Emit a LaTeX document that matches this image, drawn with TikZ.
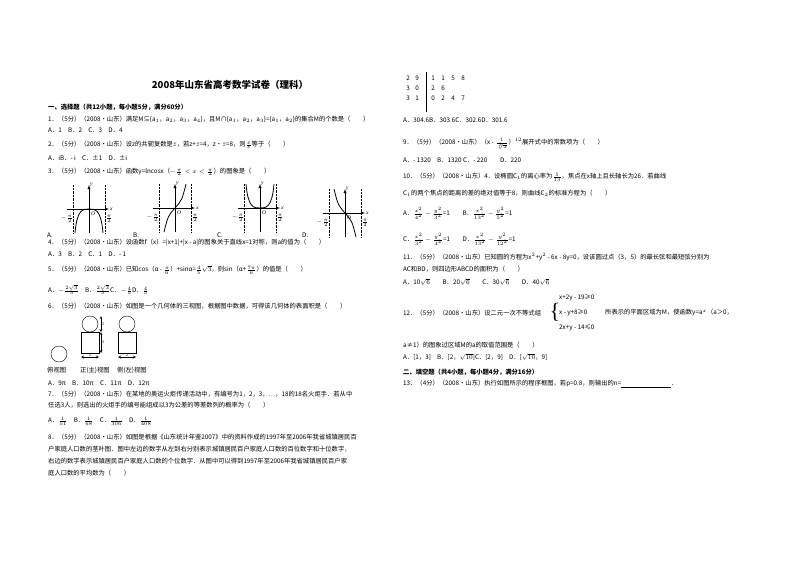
\documentclass[tikz,border=0pt]{standalone}
\usepackage{fontspec}
\setmainfont{Liberation Serif}
\newfontfamily\cjk{Noto Sans CJK SC}
\begin{document}
\begin{tikzpicture}[x=1pt,y=-1pt,
  t/.style={anchor=west,inner sep=0pt,font=\fontsize{6.3}{7}\selectfont\cjk},
  tb/.style={anchor=west,inner sep=0pt,font=\fontsize{6.3}{7}\selectfont\cjk\bfseries},
  ax/.style={-latex,thin},
  dl/.style={densely dotted,thin},
  cv/.style={thick},
  sm/.style={font=\fontsize{5.5}{5.5}\selectfont,inner sep=0pt}]
\useasboundingbox (0,0) rectangle (800,565);
\fill[white] (0,0) rectangle (800,565);
\newcommand\Lq[3]{\node[t] at (#1,#2) {#3};}
% title
\node[inner sep=0pt,font=\fontsize{9.5}{10}\selectfont\cjk\bfseries] (title) at (230,85) {2008年山东省高考数学试卷（理科）};
\node[tb] (s1) at (48,107) {一、选择题（共12小题，每小题5分，满分60分）};
\Lq{48}{119}{1．（5分）（2008•山东）满足M⊆\{a$_1$，a$_2$，a$_3$，a$_4$\}，且M∩\{a$_1$，a$_2$，a$_3$\}=\{a$_1$，a$_2$\}的集合M的个数是（　　）}
\Lq{48}{130}{A．1　B．2　C．3　D．4}
\Lq{48}{145}{2．（5分）（2008•山东）设z的共轭复数是$\bar z$，若z+$\bar z$=4，z•$\bar z$=8，则$\frac{\bar z}{z}$等于（　　）}
\Lq{48}{158}{A．iB．- i　C．±1　D．±i}
\Lq{48}{172}{3．（5分）（2008•山东）函数y=lncosx（$-\frac{\pi}{2}<x<\frac{\pi}{2}$）的图象是（　　）}
% graphs
\foreach \ox/\oy/\lab in {89/209/A,175/208/B,260/208/C,345/213/D}{
  \draw[ax] (\ox-22,\oy) -- (\ox+20,\oy) node[right,inner sep=1pt,font=\fontsize{5.5}{5.5}\selectfont\itshape]{x};
  \draw[ax] (\ox,\oy+24) -- (\ox,\oy-24) node[right,inner sep=1pt,font=\fontsize{5.5}{5.5}\selectfont\itshape]{y};
  \draw[dl] (\ox-16,\oy-24) -- (\ox-16,\oy+24);
  \draw[dl] (\ox+16,\oy-24) -- (\ox+16,\oy+24);
  \node[sm,font=\fontsize{5.5}{5.5}\selectfont\itshape] at (\ox+4,\oy+5) {O};
  \node[sm] at (\ox-22,\oy+10) {$-\frac{\pi}{2}$};
  \node[sm] at (\ox+20,\oy+10) {$\frac{\pi}{2}$};
}
\Lq{47}{235}{A.}
\Lq{133}{235}{B.}
\Lq{217}{235}{C.}
\Lq{302}{235}{D.}
\draw[cv] (89-14,209+24) .. controls (89-12,209) and (89-6,209) .. (89,209) .. controls (89+6,209) and (89+12,209) .. (89+14,209+24);
\draw[cv] (175-11,208+24) .. controls (175-7,208+8) .. (175,208) .. controls (175+7,208-8) .. (175+11,208-24);
\draw[cv] (260-14,208-24) .. controls (260-12,208) and (260-6,208) .. (260,208) .. controls (260+6,208) and (260+12,208) .. (260+14,208-24);
\draw[cv] (345-11,213-24) .. controls (345-7,213-8) .. (345,213) .. controls (345+7,213+8) .. (345+11,213+24);
\Lq{48}{243}{4．（5分）（2008•山东）设函数f（x）=|x+1|+|x - a|的图象关于直线x=1对称，则a的值为（　　）}
\Lq{48}{254}{A．3　B．2　C．1　D．- 1}
\Lq{48}{270}{5．（5分）（2008•山东）已知cos（α - $\frac{\pi}{6}$）+sinα=$\frac{4}{5}\sqrt{3}$，则sin（α+$\frac{7\pi}{6}$）的值是（　　）}
\Lq{48}{290}{A．$-\frac{2\sqrt{3}}{5}$　B．$\frac{2\sqrt{3}}{5}$C．$-\frac{4}{5}$D．$\frac{4}{5}$}
\Lq{48}{306}{6．（5分）（2008•山东）如图是一个几何体的三视图，根据图中数据，可得该几何体的表面积是（　　）}
% three views
\draw (90,324) circle (8);
\draw (81,332) rectangle (99,353);
\draw (127,324) circle (8);
\draw (118,332) rectangle (136,353);
\draw (59,354) circle (8);
\draw[<->,>=stealth] (101,316) -- (101,332) node[midway,right,inner sep=1pt,font=\fontsize{4}{4}\selectfont]{2};
\draw[<->,>=stealth] (101,332) -- (101,353) node[midway,right,inner sep=1pt,font=\fontsize{4}{4}\selectfont]{3};
\draw[<->,>=stealth] (81,357) -- (99,357) node[midway,above,inner sep=0.5pt,font=\fontsize{4}{4}\selectfont]{2};
\draw[<->,>=stealth] (118,357) -- (136,357) node[midway,above,inner sep=0.5pt,font=\fontsize{4}{4}\selectfont]{2};
\Lq{47}{370}{俯视图}
\Lq{80}{370}{正(主)视图}
\Lq{117}{370}{侧(左)视图}
\Lq{48}{383}{A．9π　B．10π　C．11π　D．12π}
\Lq{48}{394}{7．（5分）（2008•山东）在某地的奥运火炬传递活动中，有编号为1，2，3，…，18的18名火炬手．若从中}
\Lq{48}{405}{任选3人，则选出的火炬手的编号能组成以3为公差的等差数列的概率为（　　）}
\Lq{48}{421}{A．$\frac{1}{51}$　B．$\frac{1}{68}$　C．$\frac{1}{306}$　D．$\frac{1}{408}$}
\Lq{48}{437}{8．（5分）（2008•山东）如图是根据《山东统计年鉴2007》中的资料作成的1997年至2006年我省城镇居民百}
\Lq{48}{449}{户家庭人口数的茎叶图．图中左边的数字从左到右分别表示城镇居民百户家庭人口数的百位数字和十位数字，}
\Lq{48}{461}{右边的数字表示城镇居民百户家庭人口数的个位数字．从图中可以得到1997年至2006年我省城镇居民百户家}
\Lq{48}{473}{庭人口数的平均数为（　　）}
% stem-leaf
\foreach \r/\y in {{2,9,1,1,5,8}/78,{3,0,2,6}/88,{3,1,0,2,4,7}/98}{
  \foreach \d [count=\i] in \r {
    \pgfmathsetmacro\xx{\i<3 ? 408+(\i-1)*9 : 433+(\i-3)*10}
    \node[t,anchor=center] at (\xx,\y) {\d};
  }
}
\draw[thick] (426,72) -- (426,112);
\Lq{403}{120}{A．304.6B．303.6C．302.6D．301.6}
\Lq{403}{144}{9．（5分）（2008•山东）（x - $\frac{1}{\sqrt[3]{x}}$）$^{12}$展开式中的常数项为（　　）}
\Lq{403}{160}{A．- 1320　B．1320 C．- 220　　D．220}
\Lq{403}{177}{10．（5分）（2008•山东）4．设椭圆C$_1$的离心率为$\frac{5}{13}$，焦点在x轴上且长轴长为26．若曲线}
\Lq{403}{193}{C$_1$的两个焦点的距离的差的绝对值等于8，则曲线C$_2$的标准方程为（　　）}
\Lq{403}{213}{A．$\frac{x^2}{4^2}-\frac{y^2}{3^2}$=1　　B．$\frac{x^2}{13^2}-\frac{y^2}{5^2}$=1}
\Lq{403}{239}{C．$\frac{x^2}{3^2}-\frac{y^2}{4^2}$=1　　D．$\frac{x^2}{13^2}-\frac{y^2}{12^2}$=1}
\Lq{403}{257}{11．（5分）（2008•山东）已知圆的方程为x$^2$+y$^2$ - 6x - 8y=0，设该圆过点（3，5）的最长弦和最短弦分别为}
\Lq{403}{269}{AC和BD，则四边形ABCD的面积为（　　）}
\Lq{403}{282}{A．10$\sqrt{6}$　　B．20$\sqrt{6}$　　C．30$\sqrt{6}$　　D．40$\sqrt{6}$}
\Lq{403}{313}{12．（5分）（2008•山东）设二元一次不等式组}
\node[inner sep=0pt,font=\fontsize{22}{22}\selectfont] at (555,312) {\{};
\Lq{559}{298}{x+2y - 19≥0}
\Lq{559}{313}{x - y+8≥0}
\Lq{559}{328}{2x+y - 14≤0}
\Lq{605}{313}{所表示的平面区域为M，使函数y=a$^x$（a＞0，}
\Lq{403}{345}{a≠1）的图象过区域M的a的取值范围是（　　）}
\Lq{403}{357}{A．[1，3]　B．[2，$\sqrt{10}$]C．[2，9]　D．[$\sqrt{10}$，9]}
\node[tb] (s2) at (403,372) {二、填空题（共4小题，每小题4分，满分16分）};
\Lq{403}{384}{13．（4分）（2008•山东）执行如图所示的程序框图，若p=0.8，则输出的n=\underline{\hspace{50pt}}．}
\end{tikzpicture}
\end{document}
